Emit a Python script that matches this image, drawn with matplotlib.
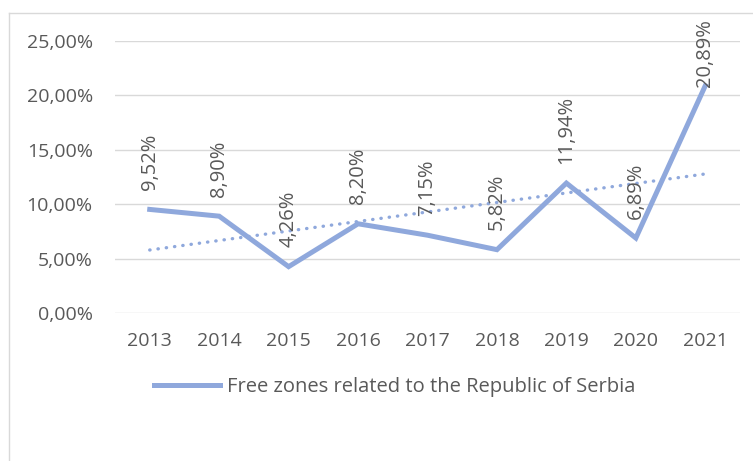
import numpy as np
import matplotlib
matplotlib.use("Agg")
import matplotlib.pyplot as plt
from matplotlib.lines import Line2D
from matplotlib.ticker import FuncFormatter

plt.rcParams['font.family'] = ['Open Sans', 'DejaVu Sans']

# data
years = ['2013', '2014', '2015', '2016', '2017', '2018', '2019', '2020', '2021']
shares = [9.52, 8.90, 4.26, 8.20, 7.15, 5.82, 11.94, 6.89, 20.89]
series_name = 'Free zones related to the Republic of Serbia'

line_col = '#8FA8DC'
text_col = '#595959'
grid_col = '#D9D9D9'

fig = plt.figure(figsize=(7.53, 4.61), dpi=100)
ax = fig.add_axes([115 / 753, 1 - 313 / 461, 625 / 753, 272 / 461])

x = np.arange(len(years))
ax.plot(x, shares, color=line_col, lw=3.6, solid_joinstyle='miter', label=series_name)

# linear trend line (like Excel's)
k, b = np.polyfit(x, shares, 1)
ax.plot(x, k * x + b, color=line_col, lw=2.4, linestyle=(0, (0.1, 2.4)),
        dash_capstyle='round')

# value labels, rotated, above points (last one pushed down by the chart edge)
offsets = [14] * (len(shares) - 1) + [-1]
for xi, v, off in zip(x, shares, offsets):
    ax.annotate(f'{v:.2f}%'.replace('.', ','), (xi, v), xytext=(0, off),
                textcoords='offset points', rotation=90, ha='center', va='bottom',
                fontsize=14.5, color=text_col)

ax.set_xlim(-0.5, len(years) - 0.5)
ax.set_ylim(0, 25)
ax.set_yticks(np.arange(0, 26, 5))
ax.yaxis.set_major_formatter(FuncFormatter(lambda v, p: f'{v:.2f}%'.replace('.', ',')))
ax.set_xticks(x)
ax.set_xticklabels(years)
ax.grid(axis='y', color=grid_col, lw=1)
ax.set_axisbelow(True)
for s in ax.spines.values():
    s.set_visible(False)
ax.tick_params(axis='both', length=0, labelsize=14, colors=text_col)
ax.tick_params(axis='y', pad=16)
ax.tick_params(axis='x', pad=14)

leg = fig.legend(handles=[Line2D([], [], color=line_col, lw=3.6)], labels=[series_name],
                 loc='center', bbox_to_anchor=(0.524, 1 - 387 / 461), frameon=False,
                 fontsize=14.5, handlelength=3.25, handletextpad=0.35, labelcolor=text_col)

# outer chart frame (cut by the image edge)
fig.add_artist(Line2D([9 / 753, 9 / 753], [0, 1 - 13 / 461], color=grid_col, lw=1,
                      transform=fig.transFigure))
fig.add_artist(Line2D([9 / 753, 1], [1 - 13 / 461, 1 - 13 / 461], color=grid_col, lw=1,
                      transform=fig.transFigure))

fig.savefig('out.png', dpi=100)
